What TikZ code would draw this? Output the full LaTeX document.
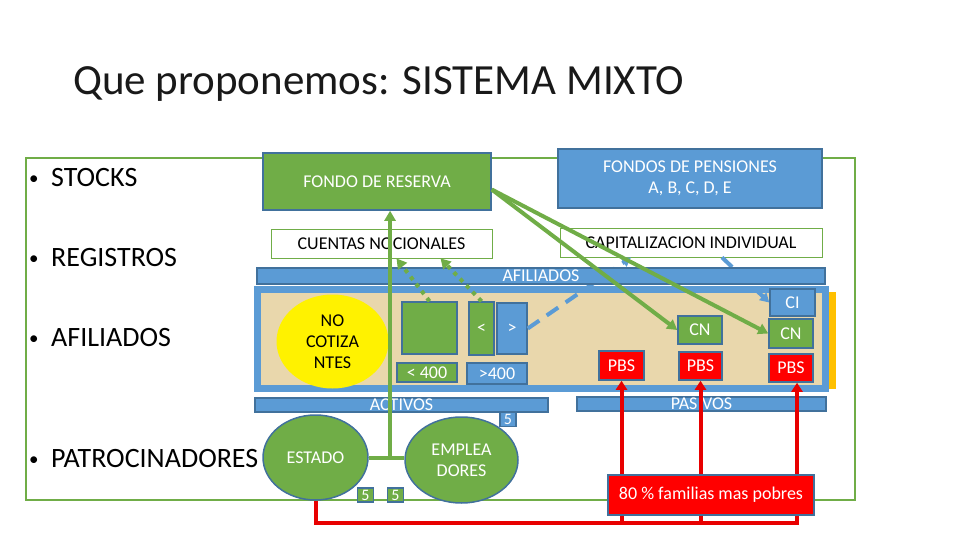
\documentclass[tikz,border=0pt]{standalone}
\usepackage{fontspec}
\setmainfont{Carlito}
\usetikzlibrary{arrows.meta,shapes.geometric}

\definecolor{gfill}{RGB}{112,173,71}
\definecolor{bfill}{RGB}{91,155,213}
\definecolor{bdr}{RGB}{65,113,156}
\definecolor{rfill}{RGB}{255,0,0}
\definecolor{redln}{RGB}{232,0,0}
\definecolor{parch}{RGB}{233,215,172}
\definecolor{goldbar}{RGB}{255,192,0}

\newcommand{\fsmall}{\fontsize{18}{21}\selectfont}
\newcommand{\fbig}{\fontsize{28}{32}\selectfont}
\newcommand{\dotmark}{\makebox[22pt][l]{\raisebox{2pt}{\fontsize{19}{19}\selectfont •}}}

\tikzset{
  gbox/.style={rectangle, draw=bdr, line width=1.5pt, fill=gfill, text=white, inner sep=0pt, font=\fsmall},
  bbox/.style={gbox, fill=bfill},
  rbox/.style={gbox, fill=rfill},
  wbox/.style={rectangle, draw=gfill, line width=0.8pt, fill=white, text=black, inner sep=0pt, font=\fsmall},
  bar/.style={rectangle, draw=bdr, line width=1.2pt, fill=bfill, text=white, inner sep=0pt, font=\fsmall},
  oval/.style={ellipse, draw=bdr, line width=1.5pt, fill=gfill, text=white, inner sep=0pt, font=\fsmall, align=center},
  numbox/.style={gbox, minimum width=16pt, minimum height=14pt, font=\fontsize{16}{16}\selectfont},
  bullet/.style={anchor=base west, inner sep=0pt, font=\fbig},
  gline/.style={draw=gfill, line width=4pt},
  garrow/.style={gline, -{Triangle[length=10pt,width=11pt]}},
  gdots/.style={gline, dash pattern=on 4pt off 5pt, -{Triangle[length=10pt,width=11pt]}},
  bdash/.style={draw=bfill, line width=4pt, dash pattern=on 14pt off 9pt, -{Triangle[length=9pt,width=10pt]}},
  rarrow/.style={draw=redln, line width=4pt, -{Triangle[length=9pt,width=11pt]}}
}

\begin{document}
\begin{tikzpicture}[x=1pt,y=-1pt]
\useasboundingbox (0,0) rectangle (960,540);

% title and frame
\node[anchor=base west, inner sep=0pt, font=\fontsize{43}{50}\selectfont, text=black!90] (title) at (73,95) {Que proponemos: SISTEMA MIXTO};
\draw[gfill, line width=2pt] (26,158) rectangle (855,500);

\node[bullet] (bstk) at (29,186.5) {\dotmark STOCKS};
\node[bullet] (breg) at (29,266.5) {\dotmark REGISTROS};
\node[bullet] (bafi) at (29,346.5) {\dotmark AFILIADOS};
\node[bullet] (bpat) at (29,467.5) {\dotmark PATROCINADORES};

% afiliados container
\node[draw=bfill, line width=7pt, fill=parch, minimum width=568pt, minimum height=99pt, inner sep=0pt] (afbox) at (541,338.5) {};
\fill[goldbar] (829,292) rectangle (836,389);

% stocks and registros
\node[gbox, minimum width=228pt, minimum height=57pt] (resv) at (377,181.5) {FONDO DE RESERVA};
\node[bbox, minimum width=264pt, minimum height=59pt, align=center] (fpen) at (690,178.5) {FONDOS DE PENSIONES\\A, B, C, D, E};
\node[wbox, minimum width=221pt, minimum height=29pt] (cnoc) at (381.5,243.5) {CUENTAS NOCIONALES};
\node[wbox, minimum width=262pt, minimum height=29pt] (cind) at (691,242.5) {CAPITALIZACION INDIVIDUAL};

% inside the container
\node[ellipse, fill=yellow, inner sep=0pt, minimum width=112pt, minimum height=94pt, align=center, font=\fsmall] (ncot) at (332.5,341.5) {NO\\COTIZA\\NTES};
\node[gbox, minimum width=55pt, minimum height=52pt] (gsq) at (429.5,328) {};
\node[gbox, minimum width=25pt, minimum height=53pt] (lt) at (481.5,328.5) {<};
\node[bbox, minimum width=30pt, minimum height=51pt] (gt) at (512,328.5) {>};
\node[gbox, minimum width=60pt, minimum height=19pt] (lt400) at (427,372.5) {< 400};
\node[bbox, minimum width=60pt, minimum height=21pt] (gt400) at (497,373.5) {>400};
\node[bbox, minimum width=45pt, minimum height=27pt] (ci) at (792.5,302.5) {CI};
\node[gbox, minimum width=44pt, minimum height=28pt] (cnA) at (700,330) {CN};
\node[gbox, minimum width=44pt, minimum height=29pt] (cnB) at (791,333.5) {CN};
\node[rbox, minimum width=45pt, minimum height=29pt] (pbsA) at (621.5,365.5) {PBS};
\node[rbox, minimum width=43pt, minimum height=28pt] (pbsB) at (700.5,366) {PBS};
\node[rbox, minimum width=44pt, minimum height=28pt] (pbsC) at (791,368) {PBS};

\draw[bdash] (gt.east) -- ([xshift=-60pt]cind.south);
\draw[bdash] ([xshift=31pt]cind.south) -- (ci.west);

\node[bar, minimum width=568pt, minimum height=16pt] (afil) at (541,276) {AFILIADOS};
\node[bar, minimum width=293pt, minimum height=14pt] (activ) at (401.5,405) {ACTIVOS};
\node[bar, minimum width=249pt, minimum height=14pt] (pasiv) at (701.5,404) {PASIVOS};
\node[numbox, fill=bfill] (fiveA) at (508,419.5) {5};

% patrocinadores
\node[oval, minimum width=105pt, minimum height=85pt] (estado) at (315.5,457.5) {ESTADO};
\node[oval, minimum width=113pt, minimum height=86pt] (empl) at (461.5,460) {EMPLEA\\DORES};
\node[numbox] (fiveB) at (365.5,495) {5};
\node[numbox] (fiveC) at (395.5,495) {5};

\coordinate (rb) at (317,523);
\draw[rarrow] (estado.south) -- (estado.south |- rb) -- ([xshift=6pt]pbsC.south |- rb) -- ([xshift=6pt]pbsC.south);
\draw[rarrow] (pbsA.south |- rb) -- (pbsA.south);
\draw[rarrow] (pbsB.south |- rb) -- (pbsB.south);
\node[rbox, minimum width=206pt, minimum height=40pt] (pobres) at (711,495) {80 \% familias mas pobres};

% green flows
\draw[gline] (estado.east) -- (estado.east -| empl.west) coordinate[pos=0.6] (jn);
\draw[garrow] (jn) -- (jn |- resv.south);
\draw[garrow] (resv.-4) -- (cnA.west);
\draw[garrow] (resv.-4) -- (cnB.west);
\draw[gdots] (gsq.north) -- ([xshift=15pt]cnoc.south);
\draw[gdots] (lt.north) -- ([xshift=59pt]cnoc.south);
\end{tikzpicture}
\end{document}
